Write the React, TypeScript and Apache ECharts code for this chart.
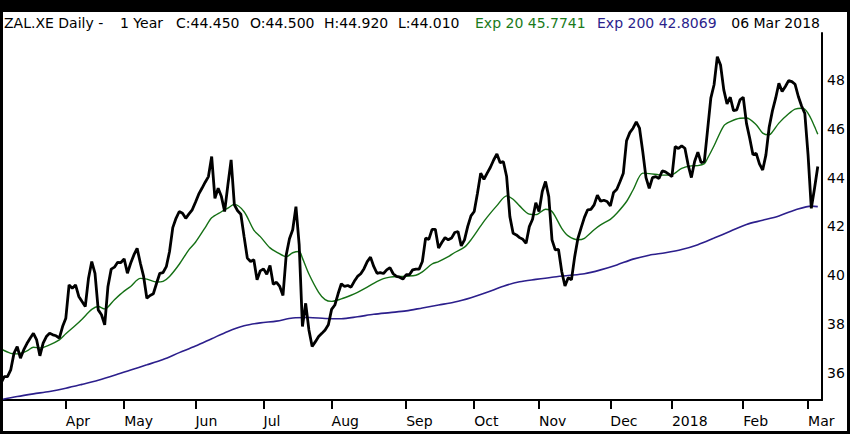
import React, { useEffect, useRef } from "react";
import * as echarts from "echarts";

// Trading calendar (category labels only)
const startDate = "2017-03-06";
const endDate = "2018-03-06";
const holidays = [
  "2017-04-14", "2017-04-17", "2017-05-01", "2017-06-05", "2017-10-03",
  "2017-10-31", "2017-12-25", "2017-12-26", "2018-01-01",
];
const monthNames = ["2018", "Feb", "Mar", "Apr", "May", "Jun", "Jul", "Aug", "Sep", "Oct", "Nov", "Dec"];

// Daily close values
const closes = [
  35.58, 35.85, 35.85, 36.12, 36.8, 37.08, 36.6, 36.94, 37.2, 37.42,
  37.62, 37.35, 36.7, 37.22, 37.49, 37.62, 37.56, 37.52, 37.42, 37.9,
  38.24, 39.6, 39.47, 39.6, 39.13, 38.92, 38.72, 39.88, 40.56, 40.08,
  38.58, 38.38, 37.97, 39.54, 40.25, 40.33, 40.53, 40.52, 40.67, 40.08,
  40.49, 40.83, 41.1, 40.49, 39.95, 39.06, 39.17, 39.24, 39.67, 40.08,
  40.11, 40.35, 40.97, 41.95, 42.33, 42.61, 42.54, 42.33, 42.51, 42.68,
  42.99, 43.32, 43.56, 43.81, 44.04, 44.86, 43.15, 43.56, 43.22, 42.61,
  43.7, 44.72, 42.88, 42.64, 42.5, 41.58, 40.7, 40.56, 40.63, 39.81,
  40.18, 40.26, 40.04, 40.4, 39.63, 39.71, 39.54, 39.17, 40.83, 41.49,
  41.86, 42.81, 41.24, 37.9, 38.85, 37.76, 37.08, 37.28, 37.49, 37.62,
  37.76, 37.97, 38.6, 38.78, 39.24, 39.65, 39.54, 39.58, 39.51, 39.75,
  39.95, 40.06, 40.27, 40.56, 40.74, 40.36, 40.08, 40.11, 40.07, 40.22,
  40.31, 40.06, 39.95, 39.92, 39.84, 40.02, 40.02, 40.22, 40.25, 40.25,
  40.56, 41.52, 41.47, 41.88, 41.88, 41.11, 41.34, 41.54, 41.45, 41.52,
  41.75, 41.79, 41.2, 41.45, 42.0, 42.43, 42.61, 43.36, 44.18, 43.93,
  44.18, 44.42, 44.72, 44.97, 44.61, 44.65, 44.04, 42.4, 41.72, 41.65,
  41.54, 41.47, 41.31, 41.99, 42.29, 42.97, 42.61, 43.43, 43.84, 43.22,
  41.45, 41.04, 41.06, 40.15, 39.56, 39.9, 39.81, 40.76, 41.51, 41.95,
  42.37, 42.68, 42.7, 42.88, 43.28, 43.03, 43.07, 43.02, 42.84, 43.39,
  43.52, 43.84, 44.18, 45.51, 45.84, 46.02, 46.28, 46.02, 45.06, 44.0,
  43.56, 44.0, 44.04, 43.96, 44.27, 44.23, 44.14, 44.04, 45.27, 45.19,
  45.3, 45.2, 44.52, 44.0, 44.66, 45.04, 44.61, 44.66, 45.95, 47.25,
  47.8, 48.95, 48.61, 47.59, 47.02, 47.29, 46.74, 46.77, 47.18, 47.29,
  46.22, 45.61, 44.93, 44.99, 44.56, 44.31, 44.93, 46.06, 46.73, 47.25,
  47.86, 47.52, 47.73, 47.97, 47.93, 47.82, 47.32, 46.93, 46.63, 44.93,
  42.74, 43.56, 44.45,
];

// Exp 20 read at sampled trading-day indices
const ema20Idx = [
  0, 3, 5, 8, 10, 12, 15, 18, 20, 23, 25, 28, 30, 32, 35, 38, 40, 43, 45, 48,
  50, 52, 55, 58, 60, 63, 65, 68, 70, 72, 75, 78, 80, 83, 85, 88, 90, 92, 93, 95,
  98, 100, 102, 105, 108, 110, 113, 115, 118, 120, 123, 125, 128, 130, 133, 135, 138, 140, 143, 145,
  148, 150, 153, 156, 158, 160, 163, 165, 168, 170, 173, 175, 178, 180, 183, 185, 188, 190, 193, 195,
  198, 200, 203, 204, 207, 210, 213, 215, 217, 218, 220, 223, 225, 228, 230, 233, 235, 237, 238, 240,
  243, 245, 247, 248, 249, 250, 251, 252,
];
const ema20Val = [
  36.98, 36.8, 36.78, 36.9, 37.05, 37.02, 37.15, 37.35, 37.6, 37.95, 38.2, 38.6, 38.72, 38.62, 39.0, 39.35, 39.54, 39.87, 39.84, 39.72,
  39.75, 39.95, 40.45, 41.05, 41.35, 41.95, 42.35, 42.6, 42.75, 42.9, 42.6, 41.85, 41.58, 41.12, 40.95, 40.76, 40.92, 40.97, 40.7, 40.05,
  39.3, 39.0, 38.93, 39.03, 39.18, 39.3, 39.51, 39.67, 39.86, 39.92, 39.95, 39.96, 40.0, 40.14, 40.46, 40.56, 40.76, 40.93, 41.15, 41.45,
  42.02, 42.38, 42.85, 43.25, 43.11, 42.84, 42.5, 42.48, 42.7, 42.61, 41.92, 41.61, 41.45, 41.51, 41.86, 42.06, 42.29, 42.54, 43.02, 43.49,
  44.18, 44.16, 44.11, 44.1, 44.12, 44.38, 44.48, 44.49, 44.57, 44.79, 45.3, 46.12, 46.29, 46.43, 46.44, 46.16, 45.82, 45.75, 45.87, 46.23,
  46.61, 46.8, 46.84, 46.8, 46.63, 46.39, 46.09, 45.77,
];

// Exp 200 read at sampled trading-day indices
const ema200Idx = [
  0, 5, 10, 15, 20, 25, 30, 35, 40, 45, 50, 55, 60, 65, 70, 75, 80, 85, 90, 95,
  100, 105, 110, 115, 120, 125, 130, 135, 140, 145, 150, 155, 160, 165, 170, 175, 180, 185, 190, 195,
  200, 205, 210, 215, 220, 225, 230, 235, 240, 245, 250, 252,
];
const ema200Val = [
  34.9, 35.03, 35.14, 35.24, 35.37, 35.53, 35.7, 35.9, 36.12, 36.33, 36.55, 36.83, 37.1, 37.4, 37.7, 37.93, 38.05, 38.12, 38.25, 38.27,
  38.23, 38.22, 38.3, 38.4, 38.47, 38.54, 38.66, 38.78, 38.9, 39.08, 39.3, 39.55, 39.73, 39.83, 39.92, 39.99, 40.06, 40.22, 40.42, 40.66,
  40.82, 40.92, 41.05, 41.25, 41.52, 41.8, 42.08, 42.25, 42.43, 42.67, 42.83, 42.81,
];

const yTicks = [36, 38, 40, 42, 44, 46, 48];

const headerParts = [
  { text: "ZAL.XE Daily -", x: 4, color: "#000" },
  { text: "1 Year", x: 120, color: "#000" },
  { text: "C:44.450", x: 176, color: "#000" },
  { text: "O:44.500", x: 250, color: "#000" },
  { text: "H:44.920", x: 324, color: "#000" },
  { text: "L:44.010", x: 398, color: "#000" },
  { text: "Exp 20 45.7741", x: 475, color: "#1a7a1a" },
  { text: "Exp 200 42.8069", x: 597, color: "#2c1f8c" },
];
const headerDate = "06 Mar 2018";

function tradingDays(): string[] {
  const out: string[] = [];
  const d = new Date(startDate + "T00:00:00Z");
  const end = new Date(endDate + "T00:00:00Z");
  while (d.getTime() <= end.getTime()) {
    const wd = d.getUTCDay();
    const s = d.toISOString().slice(0, 10);
    if (wd !== 0 && wd !== 6 && holidays.indexOf(s) < 0) out.push(s);
    d.setUTCDate(d.getUTCDate() + 1);
  }
  return out;
}

export default function App() {
  const ref = useRef<HTMLDivElement>(null);
  useEffect(() => {
    if (!ref.current) return;
    const chart = echarts.init(ref.current, undefined, { renderer: "svg" });
    const days = tradingDays();
    const tickIdx: number[] = [];
    const tickLab: Record<number, string> = {};
    for (let i = 1; i < days.length; i++) {
      if (days[i].slice(5, 7) !== days[i - 1].slice(5, 7)) {
        tickIdx.push(i);
        const m = parseInt(days[i].slice(5, 7), 10);
        tickLab[i] = monthNames[m - 1];
      }
    }
    const font = '"DejaVu Sans", sans-serif';
    const graphics: any[] = [
      { type: "rect", shape: { x: 0, y: 0, width: 850, height: 12 }, style: { fill: "#000" }, z: 100 },
      { type: "rect", shape: { x: 0, y: 0, width: 3, height: 434 }, style: { fill: "#000" }, z: 100 },
      { type: "rect", shape: { x: 847, y: 0, width: 3, height: 434 }, style: { fill: "#000" }, z: 100 },
      { type: "rect", shape: { x: 0, y: 431, width: 850, height: 3 }, style: { fill: "#000" }, z: 100 },
    ];
    headerParts.forEach((p) => {
      graphics.push({
        type: "text",
        z: 101,
        style: { text: p.text, x: p.x, y: 23, fill: p.color, fontSize: 14, fontFamily: font, verticalAlign: "middle", align: "left" },
      });
    });
    graphics.push({
      type: "text",
      z: 101,
      style: { text: headerDate, x: 820, y: 23, fill: "#000", fontSize: 14, fontFamily: font, verticalAlign: "middle", align: "right" },
    });

    chart.setOption({
      animation: false,
      backgroundColor: "#fff",
      grid: { left: 1, right: 28, top: 33, bottom: 34 },
      xAxis: {
        type: "value",
        min: 0,
        max: 253.3,
        axisLine: { show: true, onZero: false, lineStyle: { color: "#000", width: 2 } },
        axisTick: { show: true, customValues: tickIdx, length: 9, lineStyle: { color: "#000", width: 2 } },
        axisLabel: {
          customValues: tickIdx,
          formatter: (v: number) => tickLab[v] || "",
          color: "#000",
          fontSize: 14,
          fontFamily: font,
          align: "left",
          margin: 14,
        },
        splitLine: { show: false },
      },
      yAxis: {
        type: "value",
        position: "right",
        min: 34.89,
        max: 49.92,
        axisLine: { show: true, onZero: false, lineStyle: { color: "#000", width: 2 } },
        axisTick: { show: false },
        axisLabel: { customValues: yTicks, color: "#000", fontSize: 14, fontFamily: font, margin: 5 },
        splitLine: { show: false },
      },
      series: [
        {
          type: "line",
          data: ema200Idx.map((x, i) => [x, ema200Val[i]]),
          showSymbol: false,
          smooth: 0.3,
          lineStyle: { color: "#2c1f8c", width: 1.6 },
          z: 2,
        },
        {
          type: "line",
          data: ema20Idx.map((x, i) => [x, ema20Val[i]]),
          showSymbol: false,
          smooth: 0.3,
          lineStyle: { color: "#157015", width: 1.4 },
          z: 3,
        },
        {
          type: "line",
          data: closes.map((v, i) => [i, v]),
          showSymbol: false,
          lineStyle: { color: "#000", width: 2.8 },
          z: 4,
        },
      ],
      graphic: graphics,
    });
    return () => chart.dispose();
  }, []);
  return <div ref={ref} style={{ position: "fixed", left: 0, top: 0, width: 850, height: 434 }} />;
}
